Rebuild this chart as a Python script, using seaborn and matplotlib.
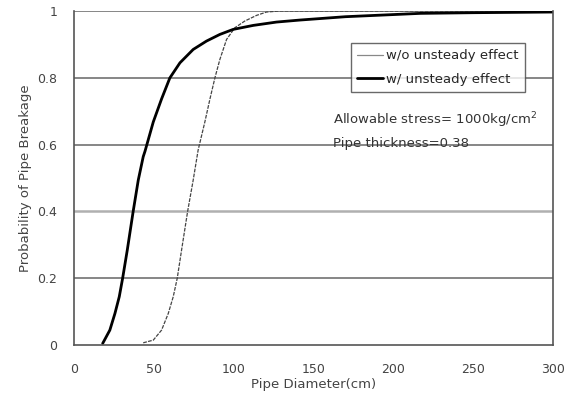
import matplotlib
matplotlib.use("Agg")
import matplotlib.pyplot as plt
import seaborn as sns
import pandas as pd

# Data
x_wo = [43.4, 49.7, 54.9, 59.1, 62.2, 64.7, 67.4, 71.2, 74.7, 77.8, 82.0, 85.2, 88.3,
        91.4, 95.6, 100.8, 107.0, 114.4, 120.6, 128.9, 300]
y_wo = [0.007, 0.015, 0.045, 0.095, 0.145, 0.2, 0.284, 0.4, 0.494, 0.584, 0.668, 0.737, 0.8,
        0.855, 0.915, 0.95, 0.97, 0.987, 0.997, 1.0, 1.0]

x_w = [18.0, 22.5, 25.7, 28.4, 30.5, 33.4, 37.1, 40.3, 43.4, 44.5, 49.7, 54.9, 60.1, 66.4,
       74.7, 83.0, 91.4, 99.7, 112.3, 126.9, 141.5, 170, 217, 250, 300]
y_w = [0.005, 0.045, 0.095, 0.145, 0.2, 0.284, 0.4, 0.494, 0.564, 0.58, 0.668, 0.737, 0.8, 0.845,
       0.885, 0.91, 0.93, 0.945, 0.957, 0.967, 0.973, 0.983, 0.993, 0.995, 0.997]

series_names = ["w/o unsteady effect", "w/ unsteady effect"]
x_ticks = [0, 50, 100, 150, 200, 250, 300]
y_ticks = [0, 0.2, 0.4, 0.6, 0.8, 1]
y_tick_labels = ["0", "0.2", "0.4", "0.6", "0.8", "1"]
annotation_lines = ["Allowable stress= 1000kg/cm$^2$", "Pipe thickness=0.38"]

df = pd.concat([
    pd.DataFrame({"x": x_wo, "y": y_wo, "series": series_names[0]}),
    pd.DataFrame({"x": x_w, "y": y_w, "series": series_names[1]}),
])

sns.set_style("white")
plt.rcParams["font.family"] = ["DejaVu Sans"]

fig = plt.figure(figsize=(5.73, 3.94), dpi=100)
ax = fig.add_axes([0.129, 0.124, 0.836, 0.848])

for yv in y_ticks[1:]:
    if abs(yv - 0.4) < 1e-9:
        ax.axhline(yv, color="#b0b0b0", lw=1.8, zorder=0)
    else:
        ax.axhline(yv, color="#666666", lw=1.1, zorder=0)

sns.lineplot(data=df, x="x", y="y", hue="series", style="series",
             palette={series_names[0]: "#444444", series_names[1]: "#000000"},
             dashes={series_names[0]: (3, 1), series_names[1]: ""},
             size="series", sizes={series_names[0]: 0.9, series_names[1]: 2.0},
             estimator=None, sort=False, ax=ax)

ax.set_xlim(0, 300)
ax.set_ylim(0, 1)
ax.set_xticks(x_ticks)
ax.set_yticks(y_ticks)
ax.set_yticklabels(y_tick_labels)
ax.tick_params(axis="x", direction="in", length=3, color="#555555", labelsize=9, labelcolor="#444444", pad=13)
ax.tick_params(axis="y", length=0, labelsize=9, labelcolor="#444444", pad=12)

for side in ["left", "right", "bottom"]:
    ax.spines[side].set_visible(True)
    ax.spines[side].set_color("#555555")
    ax.spines[side].set_linewidth(1.2)
ax.spines["top"].set_visible(False)

ax.set_xlabel("Pipe Diameter(cm)", fontsize=9.5, color="#444444", labelpad=1)
ax.set_ylabel("Probability of Pipe Breakage", fontsize=9.5, color="#444444", labelpad=4)

handles, labels = ax.get_legend_handles_labels()
leg = ax.legend(handles[-2:], series_names, loc="upper left", bbox_to_anchor=(0.578, 0.903),
                frameon=True, fancybox=False, fontsize=9.5, handlelength=2.0,
                handletextpad=0.25, borderpad=0.45, labelspacing=0.8, borderaxespad=0,
                edgecolor="#444444")
leg.get_frame().set_linewidth(1.0)
for lh, w, c in zip(leg.get_lines(), [0.9, 2.0], ["#888888", "#000000"]):
    lh.set_linewidth(w)
    lh.set_linestyle("-")
    lh.set_color(c)

ax.text(162, 0.674, annotation_lines[0], fontsize=9.5, color="#333333", va="center")
ax.text(162, 0.604, annotation_lines[1], fontsize=9.5, color="#333333", va="center")

fig.savefig("out.png", dpi=100)
